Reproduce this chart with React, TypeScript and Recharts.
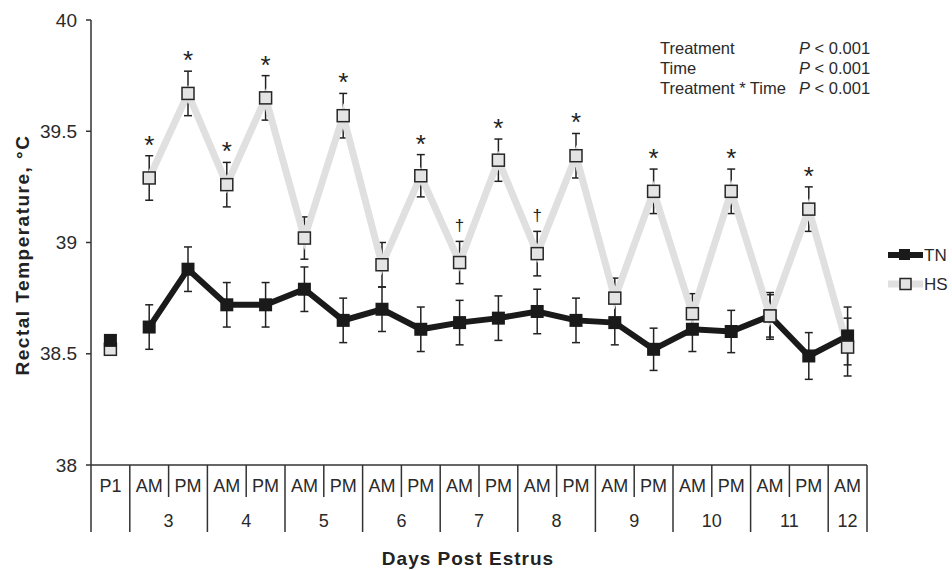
import { ComposedChart, ErrorBar, Label, LabelList, Legend, Line, XAxis, YAxis } from 'recharts'

const FONT = '"Liberation Sans", Arial, Helvetica, sans-serif'

// x categories: P1, then AM/PM sampling per day post estrus
const timeLabels = ['P1', 'AM', 'PM', 'AM', 'PM', 'AM', 'PM', 'AM', 'PM', 'AM', 'PM', 'AM', 'PM', 'AM', 'PM', 'AM', 'PM', 'AM', 'PM', 'AM']
const dayLabels = ['', '3', '3', '4', '4', '5', '5', '6', '6', '7', '7', '8', '8', '9', '9', '10', '10', '11', '11', '12']

const tnMeans = [38.56, 38.62, 38.88, 38.72, 38.72, 38.79, 38.65, 38.7, 38.61, 38.64, 38.66, 38.69, 38.65, 38.64, 38.52, 38.61, 38.6, 38.67, 38.49, 38.58]
const tnSem = [0, 0.1, 0.1, 0.1, 0.1, 0.1, 0.1, 0.1, 0.1, 0.1, 0.1, 0.1, 0.1, 0.1, 0.095, 0.1, 0.095, 0.105, 0.105, 0.13]
const hsMeans = [38.52, 39.29, 39.67, 39.26, 39.65, 39.02, 39.57, 38.9, 39.3, 38.91, 39.37, 38.95, 39.39, 38.75, 39.23, 38.68, 39.23, 38.67, 39.15, 38.53]
const hsSem = [0, 0.1, 0.1, 0.1, 0.1, 0.095, 0.1, 0.1, 0.095, 0.095, 0.095, 0.1, 0.1, 0.09, 0.1, 0.09, 0.1, 0.095, 0.1, 0.13]
const sigMarks = ['', '*', '*', '*', '*', '', '*', '', '*', '†', '*', '†', '*', '', '*', '', '*', '', '*', '']

const yTicks = [38, 38.5, 39, 39.5, 40]

const statRows = [
  ['Treatment', '< 0.001'],
  ['Time', '< 0.001'],
  ['Treatment * Time', '< 0.001'],
]

const W = 952
const H = 570
const margin = { top: 20, right: 85, bottom: 0, left: 0 }
const Y_AXIS_W = 91
const PLOT_W = W - margin.left - margin.right - Y_AXIS_W
const BAND = PLOT_W / timeLabels.length

const rows = timeLabels.map((t, i) => ({
  key: `${dayLabels[i] || 'P'} ${t}`,
  tn: i === 0 ? null : tnMeans[i],
  tnErr: i === 0 ? null : tnSem[i],
  hs: i === 0 ? null : hsMeans[i],
  hsErr: i === 0 ? null : hsSem[i],
  tnP1: i === 0 ? tnMeans[i] : null,
  hsP1: i === 0 ? hsMeans[i] : null,
  sigTop: sigMarks[i] ? hsMeans[i] + hsSem[i] : null,
  sig: sigMarks[i],
}))

const TnDot = (p: any) => {
  if (p.cx == null || p.cy == null) return <g key={p.key} />
  return <rect key={p.key} x={p.cx - 6.5} y={p.cy - 6.5} width={13} height={13} fill="#1a1a1a" />
}

const HsDot = (p: any) => {
  if (p.cx == null || p.cy == null) return <g key={p.key} />
  return (
    <rect key={p.key} x={p.cx - 6} y={p.cy - 6} width={12} height={12} fill="#e4e4e4" stroke="#262626" strokeWidth={1.5} />
  )
}

const TimeTick = (p: any) => {
  const { x, y, index } = p
  const left = x - BAND / 2
  const dayStart = index === 0 || dayLabels[index] !== dayLabels[index - 1]
  const last = index === timeLabels.length - 1
  let groupSize = 1
  while (dayLabels[index + groupSize] !== undefined && dayLabels[index + groupSize] === dayLabels[index]) groupSize++
  return (
    <g>
      <line x1={left} y1={y} x2={left} y2={y + (dayStart ? 67 : 32)} stroke="#333" strokeWidth={1.5} />
      {last && <line x1={x + BAND / 2} y1={y} x2={x + BAND / 2} y2={y + 67} stroke="#333" strokeWidth={1.5} />}
      <text x={x} y={y + 27} textAnchor="middle" fontSize={18} fontFamily={FONT} fill="#2a2a2a">
        {timeLabels[index]}
      </text>
      {dayStart && dayLabels[index] && (
        <text x={x + ((groupSize - 1) * BAND) / 2} y={y + 62} textAnchor="middle" fontSize={18} fontFamily={FONT} fill="#2a2a2a">
          {dayLabels[index]}
        </text>
      )}
    </g>
  )
}

const SigLabel = (p: any) => {
  const x = p.x ?? p.viewBox?.x
  const y = p.y ?? p.viewBox?.y
  if (!p.value || x == null || y == null || Number.isNaN(y)) return null
  const dagger = p.value === '†'
  return (
    <text x={x} y={dagger ? y - 10 : y - 2} textAnchor="middle" fontSize={dagger ? 17 : 26} fontFamily={FONT} fill="#222">
      {p.value}
    </text>
  )
}

const LegendBox = () => (
  <svg width={67} height={56}>
    <line x1={3} y1={12} x2={38} y2={12} stroke="#1a1a1a" strokeWidth={6} />
    <rect x={14} y={6} width={11} height={11} fill="#1a1a1a" />
    <text x={39} y={18} fontSize={17} fontFamily={FONT} fill="#2a2a2a">TN</text>
    <line x1={3} y1={41} x2={38} y2={41} stroke="#e0e0e0" strokeWidth={7} />
    <rect x={15} y={35.5} width={11} height={11} fill="#e4e4e4" stroke="#262626" strokeWidth={1.5} />
    <text x={39} y={47} fontSize={17} fontFamily={FONT} fill="#2a2a2a">HS</text>
  </svg>
)

export default function App() {
  return (
    <div style={{ position: 'absolute', left: 0, top: 0, width: W, height: H, background: '#fff' }}>
      <ComposedChart width={W} height={H} data={rows} margin={margin}>
        <XAxis
          dataKey="key"
          height={105}
          interval={0}
          padding={{ left: BAND / 2, right: BAND / 2 }}
          tickSize={0}
          tickMargin={0}
          tickLine={false}
          axisLine={{ stroke: '#333', strokeWidth: 1.5 }}
          tick={(p: any) => <TimeTick {...p} />}
        >
          <Label
            content={() => (
              <text x={468} y={565} textAnchor="middle" fontSize={19} fontWeight="bold" fontFamily={FONT} fill="#222" letterSpacing={1}>
                Days Post Estrus
              </text>
            )}
          />
        </XAxis>
        <YAxis
          domain={[38, 40]}
          ticks={yTicks}
          width={Y_AXIS_W}
          tickSize={5}
          tickMargin={9}
          axisLine={{ stroke: '#333', strokeWidth: 1.5 }}
          tickLine={{ stroke: '#333', strokeWidth: 1.5 }}
          tick={{ fill: '#2a2a2a', fontSize: 19, fontFamily: FONT }}
        >
          <Label
            content={() => (
              <text
                x={29}
                y={255}
                transform="rotate(-90 29 255)"
                textAnchor="middle"
                fontSize={19}
                fontWeight="bold"
                fontFamily={FONT}
                fill="#222"
                letterSpacing={1.5}
              >
                Rectal Temperature, °C
              </text>
            )}
          />
        </YAxis>
        <Legend
          layout="vertical"
          align="center"
          verticalAlign="middle"
          content={LegendBox}
          wrapperStyle={{ left: 885, top: 243, width: 67, height: 56 }}
        />

        <Line dataKey="hsP1" stroke="none" dot={HsDot} isAnimationActive={false} />
        <Line dataKey="tnP1" stroke="none" dot={TnDot} isAnimationActive={false} />

        <Line dataKey="tn" stroke="#1a1a1a" strokeWidth={6} dot={TnDot} isAnimationActive={false}>
          <ErrorBar dataKey="tnErr" width={4} stroke="#222" strokeWidth={1.5} />
        </Line>
        {/* error bars of HS sit beneath its grey line */}
        <Line dataKey="hs" stroke="none" dot={false} isAnimationActive={false}>
          <ErrorBar dataKey="hsErr" width={4} stroke="#222" strokeWidth={1.5} />
        </Line>
        <Line dataKey="hs" stroke="#e0e0e0" strokeWidth={7} dot={HsDot} isAnimationActive={false} />
        <Line dataKey="sigTop" stroke="none" dot={false} isAnimationActive={false}>
          <LabelList dataKey="sig" content={SigLabel} />
        </Line>
      </ComposedChart>

      <div style={{ position: 'absolute', left: 660, top: 38, fontFamily: FONT, fontSize: 16.5, color: '#2a2a2a', lineHeight: '20px' }}>
        {statRows.map(([name, p]) => (
          <div key={name} style={{ display: 'flex' }}>
            <span style={{ width: 139 }}>{name}</span>
            <span>
              <i>P</i> {p}
            </span>
          </div>
        ))}
      </div>
    </div>
  )
}
